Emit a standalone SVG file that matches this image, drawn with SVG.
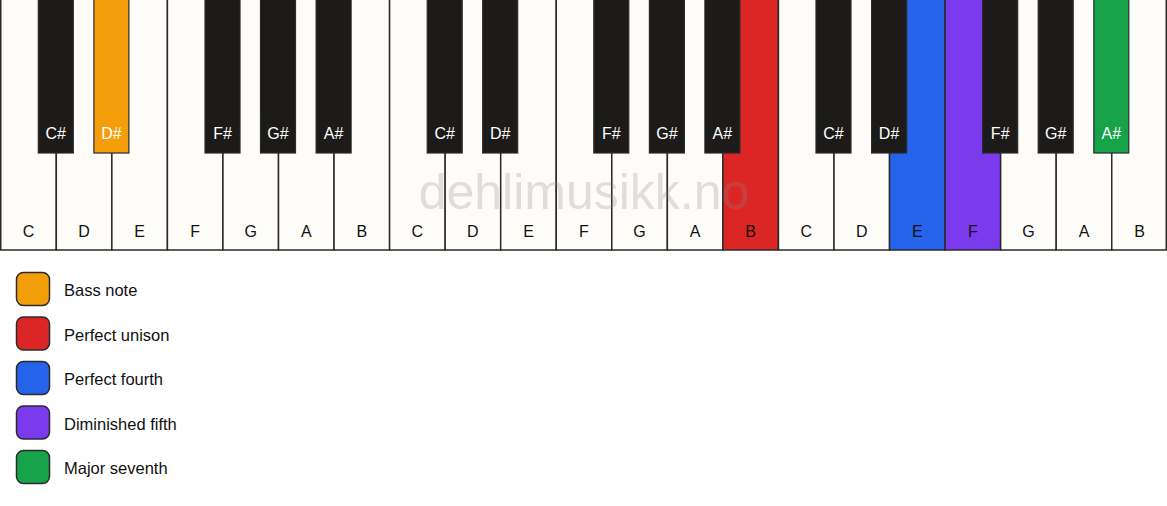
<svg xmlns="http://www.w3.org/2000/svg" width="1167" height="506" viewBox="0 0 1167 506">
<style>
.w{fill:#fdfcf9;stroke:#2b2b2b;stroke-width:1.5}
.b{fill:#1c1b19;stroke:#2b2b2b;stroke-width:1.2}
.wl{font-family:"Liberation Sans",Arial,sans-serif;font-size:16px;fill:#111;text-anchor:middle}
.bl{font-family:"Liberation Sans",Arial,sans-serif;font-size:16px;fill:#fff;text-anchor:middle}
.lg{stroke:#2b2b2b;stroke-width:1.5}
.lt{font-family:"Liberation Sans",Arial,sans-serif;font-size:16.5px;fill:#111}
</style>
<rect width="1167" height="506" fill="#ffffff"/>
<g id="white-keys">
<g id="w0"><rect class="w" x="0.75" y="-1" width="55.55" height="251"/><text class="wl" x="28.5" y="237">C</text></g>
<g id="w1"><rect class="w" x="56.3" y="-1" width="55.55" height="251"/><text class="wl" x="84" y="237">D</text></g>
<g id="w2"><rect class="w" x="111.85" y="-1" width="55.55" height="251"/><text class="wl" x="139.6" y="237">E</text></g>
<g id="w3"><rect class="w" x="167.4" y="-1" width="55.55" height="251"/><text class="wl" x="195.2" y="237">F</text></g>
<g id="w4"><rect class="w" x="222.95" y="-1" width="55.55" height="251"/><text class="wl" x="250.7" y="237">G</text></g>
<g id="w5"><rect class="w" x="278.5" y="-1" width="55.55" height="251"/><text class="wl" x="306.3" y="237">A</text></g>
<g id="w6"><rect class="w" x="334.05" y="-1" width="55.55" height="251"/><text class="wl" x="361.8" y="237">B</text></g>
<g id="w7"><rect class="w" x="389.6" y="-1" width="55.55" height="251"/><text class="wl" x="417.4" y="237">C</text></g>
<g id="w8"><rect class="w" x="445.15" y="-1" width="55.55" height="251"/><text class="wl" x="472.9" y="237">D</text></g>
<g id="w9"><rect class="w" x="500.7" y="-1" width="55.55" height="251"/><text class="wl" x="528.5" y="237">E</text></g>
<g id="w10"><rect class="w" x="556.25" y="-1" width="55.55" height="251"/><text class="wl" x="584" y="237">F</text></g>
<g id="w11"><rect class="w" x="611.8" y="-1" width="55.55" height="251"/><text class="wl" x="639.6" y="237">G</text></g>
<g id="w12"><rect class="w" x="667.35" y="-1" width="55.55" height="251"/><text class="wl" x="695.1" y="237">A</text></g>
<g id="w13"><rect class="w" x="722.9" y="-1" width="55.55" height="251" style="fill:#dc2626"/><text class="wl" x="750.7" y="237">B</text></g>
<g id="w14"><rect class="w" x="778.45" y="-1" width="55.55" height="251"/><text class="wl" x="806.2" y="237">C</text></g>
<g id="w15"><rect class="w" x="834" y="-1" width="55.55" height="251"/><text class="wl" x="861.8" y="237">D</text></g>
<g id="w16"><rect class="w" x="889.55" y="-1" width="55.55" height="251" style="fill:#2563eb"/><text class="wl" x="917.3" y="237">E</text></g>
<g id="w17"><rect class="w" x="945.1" y="-1" width="55.55" height="251" style="fill:#7c3aed"/><text class="wl" x="972.9" y="237">F</text></g>
<g id="w18"><rect class="w" x="1000.65" y="-1" width="55.55" height="251"/><text class="wl" x="1028.4" y="237">G</text></g>
<g id="w19"><rect class="w" x="1056.2" y="-1" width="55.55" height="251"/><text class="wl" x="1084" y="237">A</text></g>
<g id="w20"><rect class="w" x="1111.75" y="-1" width="54.5" height="251"/><text class="wl" x="1139.5" y="237">B</text></g>
</g>
<text x="584" y="209" font-family="'Liberation Sans',Arial,sans-serif" font-size="50" fill="#888" opacity="0.25" text-anchor="middle">dehlimusikk.no</text>
<g id="black-keys">
<g id="b0"><rect class="b" x="38.3" y="-1" width="35" height="154"/><text class="bl" x="55.8" y="139">C#</text></g>
<g id="b1"><rect class="b" x="93.9" y="-1" width="35" height="154" style="fill:#f59e0b"/><text class="bl" x="111.4" y="139">D#</text></g>
<g id="b2"><rect class="b" x="205" y="-1" width="35" height="154"/><text class="bl" x="222.5" y="139">F#</text></g>
<g id="b3"><rect class="b" x="260.5" y="-1" width="35" height="154"/><text class="bl" x="278" y="139">G#</text></g>
<g id="b4"><rect class="b" x="316.1" y="-1" width="35" height="154"/><text class="bl" x="333.6" y="139">A#</text></g>
<g id="b5"><rect class="b" x="427.2" y="-1" width="35" height="154"/><text class="bl" x="444.7" y="139">C#</text></g>
<g id="b6"><rect class="b" x="482.7" y="-1" width="35" height="154"/><text class="bl" x="500.2" y="139">D#</text></g>
<g id="b7"><rect class="b" x="593.8" y="-1" width="35" height="154"/><text class="bl" x="611.3" y="139">F#</text></g>
<g id="b8"><rect class="b" x="649.4" y="-1" width="35" height="154"/><text class="bl" x="666.9" y="139">G#</text></g>
<g id="b9"><rect class="b" x="704.9" y="-1" width="35" height="154"/><text class="bl" x="722.4" y="139">A#</text></g>
<g id="b10"><rect class="b" x="816" y="-1" width="35" height="154"/><text class="bl" x="833.5" y="139">C#</text></g>
<g id="b11"><rect class="b" x="871.6" y="-1" width="35" height="154"/><text class="bl" x="889.1" y="139">D#</text></g>
<g id="b12"><rect class="b" x="982.7" y="-1" width="35" height="154"/><text class="bl" x="1000.2" y="139">F#</text></g>
<g id="b13"><rect class="b" x="1038.2" y="-1" width="35" height="154"/><text class="bl" x="1055.7" y="139">G#</text></g>
<g id="b14"><rect class="b" x="1093.8" y="-1" width="35" height="154" style="fill:#16a34a"/><text class="bl" x="1111.3" y="139">A#</text></g>
</g>
<g id="legend">
<g id="lg-bass"><rect class="lg" x="16.5" y="272.5" width="33" height="33" rx="7" fill="#f59e0b"/><text class="lt" x="64" y="296">Bass note</text></g>
<g id="lg-unison"><rect class="lg" x="16.5" y="317" width="33" height="33" rx="7" fill="#dc2626"/><text class="lt" x="64" y="340.5">Perfect unison</text></g>
<g id="lg-fourth"><rect class="lg" x="16.5" y="361.5" width="33" height="33" rx="7" fill="#2563eb"/><text class="lt" x="64" y="385">Perfect fourth</text></g>
<g id="lg-dim5"><rect class="lg" x="16.5" y="406" width="33" height="33" rx="7" fill="#7c3aed"/><text class="lt" x="64" y="429.5">Diminished fifth</text></g>
<g id="lg-maj7"><rect class="lg" x="16.5" y="450.5" width="33" height="33" rx="7" fill="#16a34a"/><text class="lt" x="64" y="474">Major seventh</text></g>
</g>
<g id="connectors"/>
</svg>
